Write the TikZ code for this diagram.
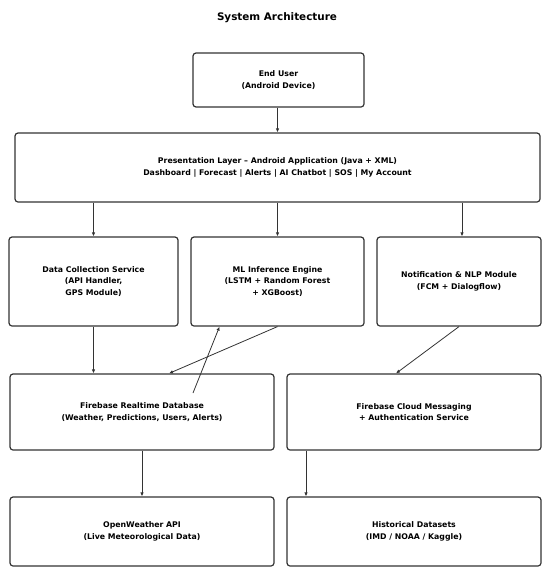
\documentclass[tikz,border=0pt]{standalone}
\usepackage{fontspec}
\setmainfont{DejaVu Sans}
\usetikzlibrary{arrows.meta}
\definecolor{edgegray}{HTML}{333333}
\tikzset{
  archbox/.style={draw=edgegray, line width=1.2pt, rounded corners=3pt, align=center,
    font=\bfseries\fontsize{7.8}{11.8}\selectfont, inner sep=0pt},
  flow/.style={-{Latex[length=4pt,width=3.5pt]}, draw=edgegray, line width=0.8pt}
}
\begin{document}
\begin{tikzpicture}[x=1pt, y=1pt]
\useasboundingbox (0,0) rectangle (542,-568);
\node[font=\bfseries\fontsize{10.4}{12}\selectfont] (title) at (277,-18) {System Architecture};

\node[archbox, minimum width=171pt, minimum height=54pt] (user) at (278.5,-80) {End User\\(Android Device)};
\node[archbox, minimum width=525pt, minimum height=69pt] (pres) at (277.5,-167.5) {Presentation Layer -- Android Application (Java + XML)\\Dashboard | Forecast | Alerts | AI Chatbot | SOS | My Account};

\node[archbox, minimum width=169pt, minimum height=89pt] (data) at (93.5,-281.5) {Data Collection Service\\(API Handler,\\GPS Module)};
\node[archbox, minimum width=173pt, minimum height=89pt] (ml) at (277.5,-281.5) {ML Inference Engine\\(LSTM + Random Forest\\+ XGBoost)};
\node[archbox, minimum width=164pt, minimum height=89pt] (notif) at (459,-281.5) {Notification \& NLP Module\\(FCM + Dialogflow)};

\node[archbox, minimum width=264pt, minimum height=76pt] (fire) at (142,-412) {Firebase Realtime Database\\(Weather, Predictions, Users, Alerts)};
\node[archbox, minimum width=254pt, minimum height=76pt] (cloud) at (414,-412) {Firebase Cloud Messaging\\+ Authentication Service};

\node[archbox, minimum width=264pt, minimum height=69pt] (ow) at (142,-531.5) {OpenWeather API\\(Live Meteorological Data)};
\node[archbox, minimum width=254pt, minimum height=69pt] (hist) at (414,-531.5) {Historical Datasets\\(IMD / NOAA / Kaggle)};

\coordinate (firetext) at ([xshift=51pt,yshift=19pt]fire.center);

\draw[flow] (user.south -| pres.north) -- (pres.north);
\draw[flow] (pres.south -| data.north) -- (data.north);
\draw[flow] (pres.south -| ml.north) -- (ml.north);
\draw[flow] ([xshift=3pt]pres.south -| notif.north) -- ([xshift=3pt]notif.north);
\draw[flow] (data.south) -- (data.south |- fire.north);
\draw[flow] (ml.south) -- ([xshift=27pt]fire.north);
\draw[flow] (firetext) -- ([xshift=-58pt]ml.south);
\draw[flow] (notif.south) -- ([xshift=-18pt]cloud.north);
\draw[flow] (fire.south) -- (ow.north);
\draw[flow] ([xshift=-108pt]cloud.south) -- ([xshift=-108pt]hist.north);
\end{tikzpicture}
\end{document}
